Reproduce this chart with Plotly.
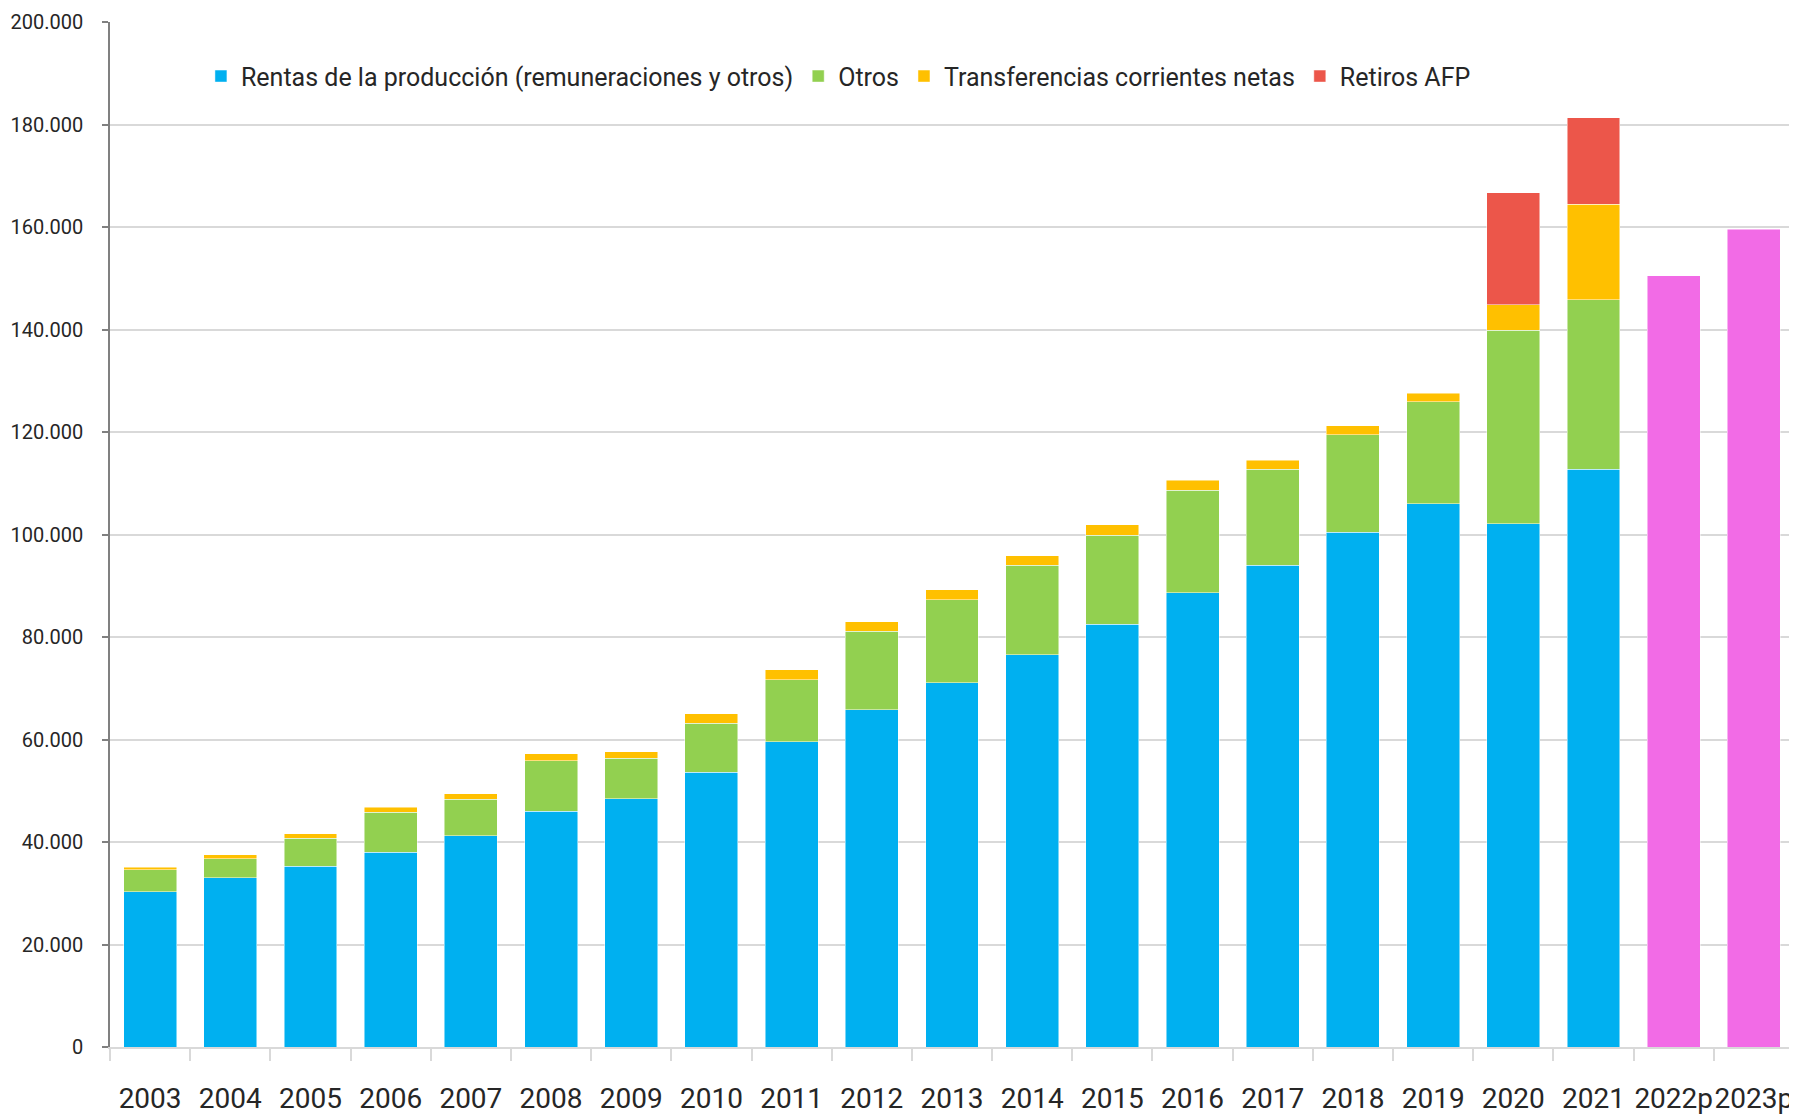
import plotly.graph_objects as go

years = ["2003", "2004", "2005", "2006", "2007", "2008", "2009", "2010", "2011", "2012",
         "2013", "2014", "2015", "2016", "2017", "2018", "2019", "2020", "2021", "2022p", "2023p"]

rentas = [30300, 33000, 35300, 38000, 41200, 46000, 48400, 53600, 59600, 65800,
          71100, 76500, 82500, 88600, 94000, 100400, 106000, 102100, 112700, None, None]
otros = [4300, 3700, 5400, 7800, 7100, 9900, 7900, 9600, 12100, 15300,
         16200, 17500, 17400, 20000, 18700, 19100, 19900, 37800, 33100, None, None]
transferencias = [500, 800, 900, 1000, 1100, 1300, 1300, 1800, 1900, 1900,
                  1900, 1900, 2000, 2000, 1800, 1700, 1700, 4900, 18600, None, None]
retiros = [None] * 17 + [21900, 16900, None, None]
proyeccion = [None] * 19 + [150500, 159600]

y_ticks = [0, 20000, 40000, 60000, 80000, 100000, 120000, 140000, 160000, 180000, 200000]

FONT = "Roboto, sans-serif"
TXT = "#262626"

series = [
    ("Rentas de la producción (remuneraciones y otros)", rentas, "#00B0F0", True),
    ("Otros", otros, "#92D050", True),
    ("Transferencias corrientes netas", transferencias, "#FFC000", True),
    ("Retiros AFP", retiros, "#EC564A", True),
    ("Proyección", proyeccion, "#F26BE6", False),
]

fig = go.Figure()
for name, vals, color, show in series:
    fig.add_trace(go.Bar(
        x=years, y=vals, name=name, showlegend=show,
        marker=dict(color=color, line=dict(color="rgba(255,255,255,0.6)", width=0.8)),
    ))

fig.update_layout(
    barmode="stack",
    bargap=0.34,
    width=1789, height=1109,
    margin=dict(l=102, r=3, t=14, b=70),
    paper_bgcolor="white",
    plot_bgcolor="white",
    separators=",.",
    font=dict(family=FONT, color=TXT),
    legend=dict(
        orientation="h", x=0.054, y=0.947, xanchor="left", yanchor="middle",
        font=dict(size=25, family=FONT, color=TXT),
        traceorder="normal", itemwidth=30, bgcolor="rgba(0,0,0,0)",
    ),
    xaxis=dict(
        type="category",
        tickson="boundaries",
        ticks="outside", ticklen=12, tickcolor="#D9D9D9", tickwidth=1.5,
        showline=True, linecolor="#D9D9D9", linewidth=1.5,
        showgrid=False,
        tickangle=0,
        automargin=False,
        tickfont=dict(size=28, family=FONT, color=TXT),
        ticklabelstandoff=26,
    ),
    yaxis=dict(
        range=[0, 200000],
        tickvals=y_ticks,
        tickformat=",d",
        ticks="outside", ticklen=6, tickcolor="#808080", tickwidth=1.5,
        showline=True, linecolor="#808080", linewidth=1.5,
        showgrid=True, gridcolor="#D9D9D9", gridwidth=1.5,
        zeroline=False,
        automargin=False,
        tickfont=dict(size=20, family=FONT, color=TXT),
        ticklabelstandoff=15,
    ),
)

fig.write_html("out.html")
